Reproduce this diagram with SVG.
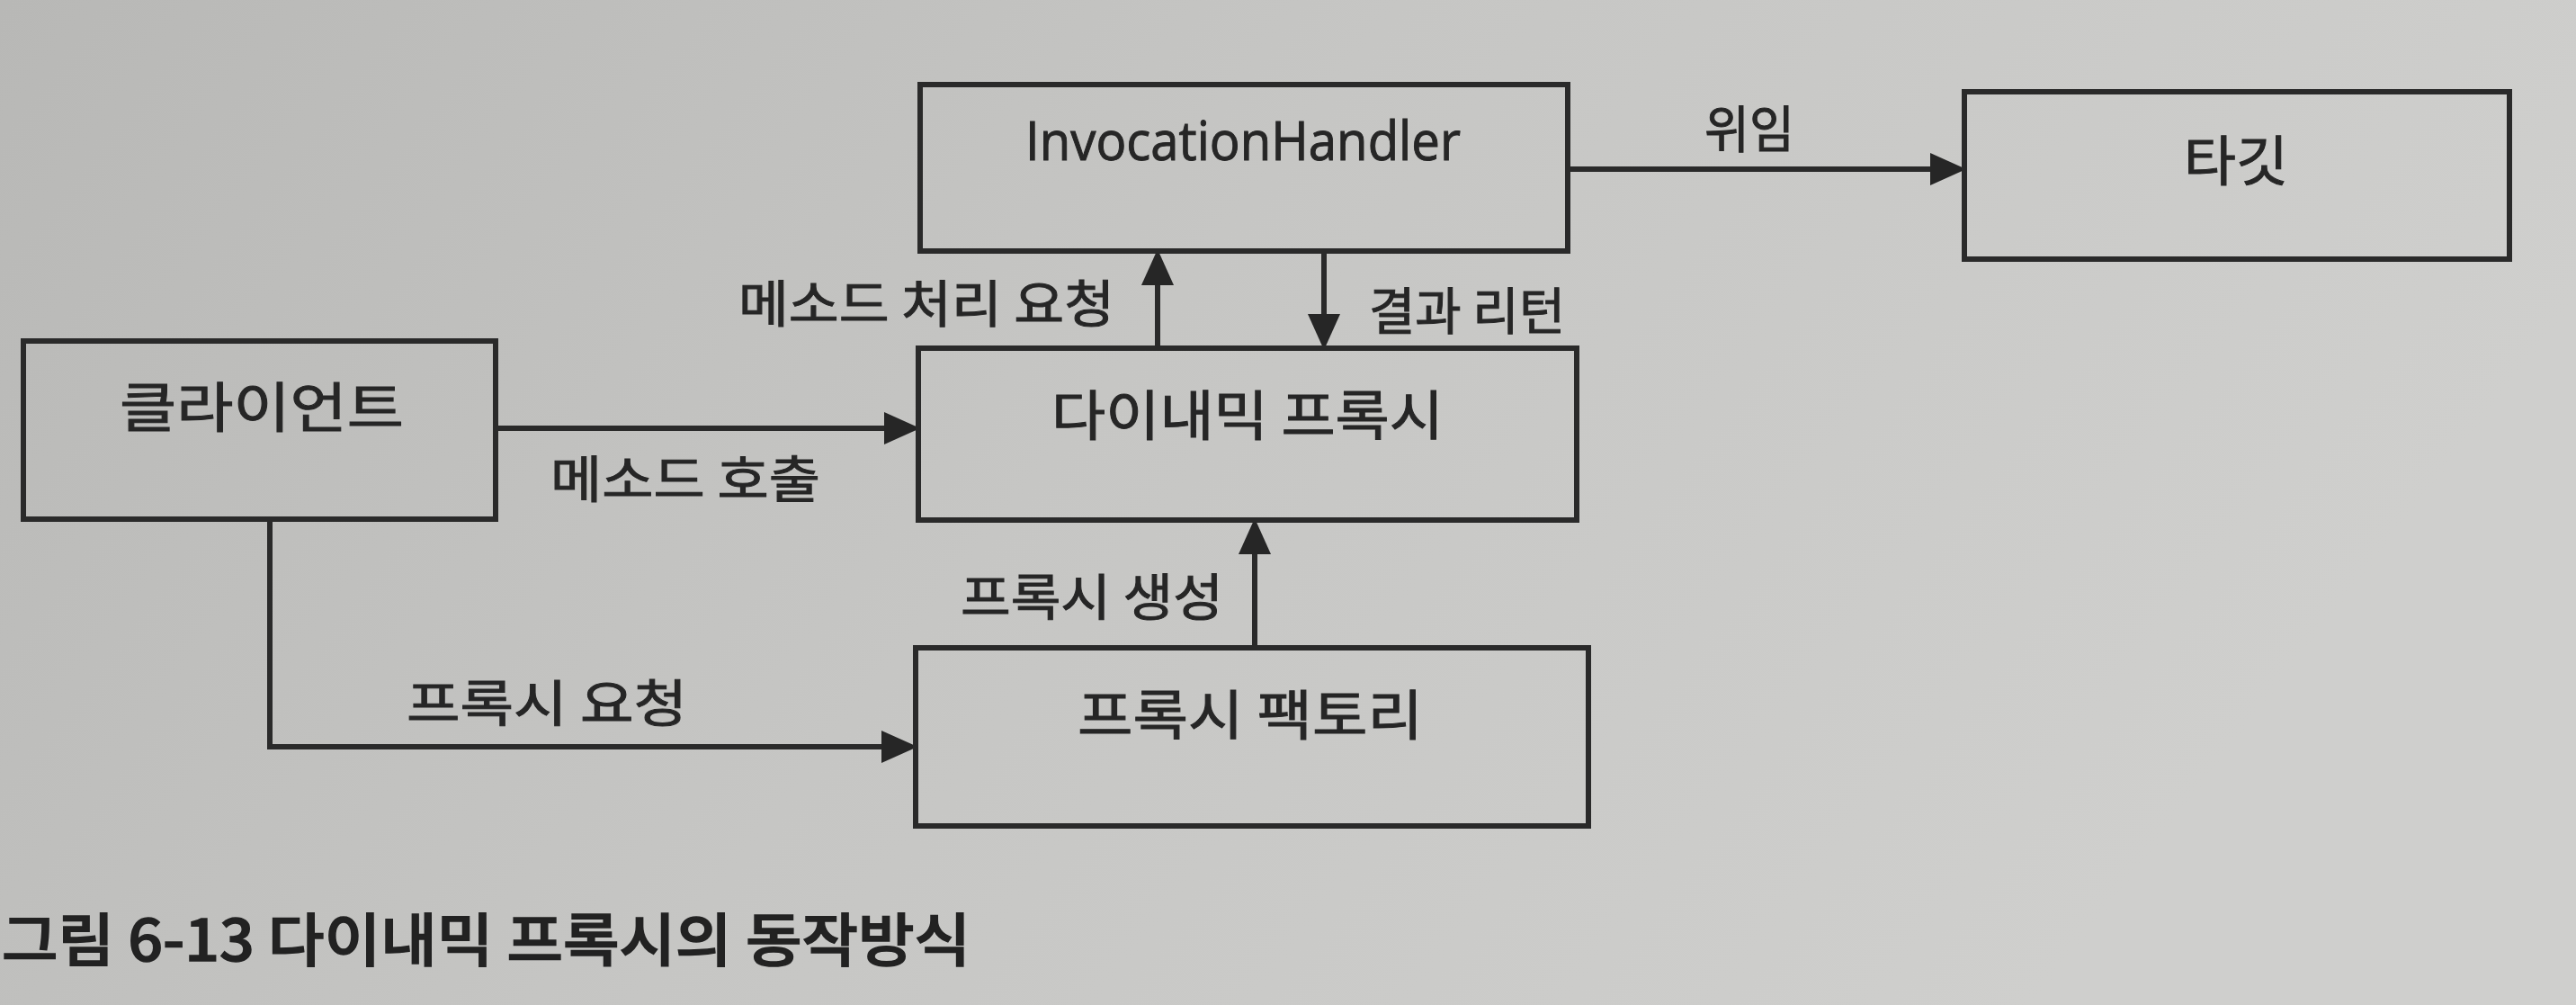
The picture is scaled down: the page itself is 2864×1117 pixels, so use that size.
<svg xmlns="http://www.w3.org/2000/svg" width="2864" height="1117" viewBox="0 0 2864 1117">
  <defs>
    <linearGradient id="paper" x1="0" y1="0" x2="1" y2="0.3">
      <stop offset="0" stop-color="#b8b8b6"/>
      <stop offset="0.5" stop-color="#c6c6c4"/>
      <stop offset="1" stop-color="#cfcfcd"/>
    </linearGradient>
    <marker id="arrow" markerUnits="userSpaceOnUse" markerWidth="42" markerHeight="40" refX="28" refY="18" orient="auto">
      <path d="M0,0 L40,18 L0,36 Z" fill="#262626"/>
    </marker>
    <style>
      .box { fill: none; stroke: #2a2a2a; stroke-width: 6; }
      .conn { fill: none; stroke: #2a2a2a; stroke-width: 6; }
      .node { font-family: "Noto Sans CJK KR", "Noto Sans", sans-serif; font-size: 60px; fill: #262626; stroke: #262626; stroke-width: 1; text-anchor: middle; dominant-baseline: central; }
      .latin { font-family: "Open Sans", "Noto Sans", sans-serif; font-size: 60px; fill: #262626; stroke: #262626; stroke-width: 1; }
      .lbl { font-family: "Noto Sans CJK KR", sans-serif; font-size: 56px; fill: #262626; stroke: #262626; stroke-width: 1; text-anchor: middle; dominant-baseline: central; }
      .cap { font-family: "Noto Sans CJK KR", sans-serif; font-size: 64px; font-weight: 500; fill: #222222; stroke: #222222; stroke-width: 1.5; dominant-baseline: central; }
    </style>
  </defs>
  <rect x="0" y="0" width="2864" height="1117" fill="url(#paper)"/>

  <g id="connectors">
    <path class="conn" d="M1743,188 L2174,188" marker-end="url(#arrow)"/>
    <path class="conn" d="M551,476 L1011,476" marker-end="url(#arrow)"/>
    <path class="conn" d="M1287,385 L1287,289" marker-end="url(#arrow)"/>
    <path class="conn" d="M1472,279 L1472,377" marker-end="url(#arrow)"/>
    <path class="conn" d="M1395,720 L1395,588" marker-end="url(#arrow)"/>
    <path class="conn" d="M300,577 L300,830 L1008,830" marker-end="url(#arrow)"/>
    <text class="lbl" x="1945" y="139" textLength="100" lengthAdjust="spacingAndGlyphs">위임</text>
    <text class="lbl" x="1030" y="333" textLength="418" lengthAdjust="spacingAndGlyphs">메소드 처리 요청</text>
    <text class="lbl" x="1631" y="341" textLength="218" lengthAdjust="spacingAndGlyphs">결과 리턴</text>
    <text class="lbl" x="762" y="528" textLength="300" lengthAdjust="spacingAndGlyphs">메소드 호출</text>
    <text class="lbl" x="1214" y="659" textLength="292" lengthAdjust="spacingAndGlyphs">프록시 생성</text>
    <text class="lbl" x="608" y="777" textLength="312" lengthAdjust="spacingAndGlyphs">프록시 요청</text>
  </g>

  <g id="invocation-handler">
    <rect class="box" x="1023" y="94" width="720" height="185"/>
    <text class="latin" x="1140" y="178" textLength="484" lengthAdjust="spacingAndGlyphs">InvocationHandler</text>
  </g>

  <g id="target">
    <rect class="box" x="2184" y="102" width="606" height="186"/>
    <text class="node" x="2486" y="174" textLength="116" lengthAdjust="spacingAndGlyphs">타깃</text>
  </g>

  <g id="client">
    <rect class="box" x="26" y="379" width="525" height="198"/>
    <text class="node" x="291" y="448" textLength="316" lengthAdjust="spacingAndGlyphs">클라이언트</text>
  </g>

  <g id="dynamic-proxy">
    <rect class="box" x="1021" y="387" width="732" height="191"/>
    <text class="node" x="1387" y="457" textLength="436" lengthAdjust="spacingAndGlyphs">다이내믹 프록시</text>
  </g>

  <g id="proxy-factory">
    <rect class="box" x="1018" y="720" width="748" height="198"/>
    <text class="node" x="1390" y="790" textLength="384" lengthAdjust="spacingAndGlyphs">프록시 팩토리</text>
  </g>

  <text class="cap" x="2" y="1040" textLength="1077" lengthAdjust="spacingAndGlyphs">그림 6-13 다이내믹 프록시의 동작방식</text>
</svg>
